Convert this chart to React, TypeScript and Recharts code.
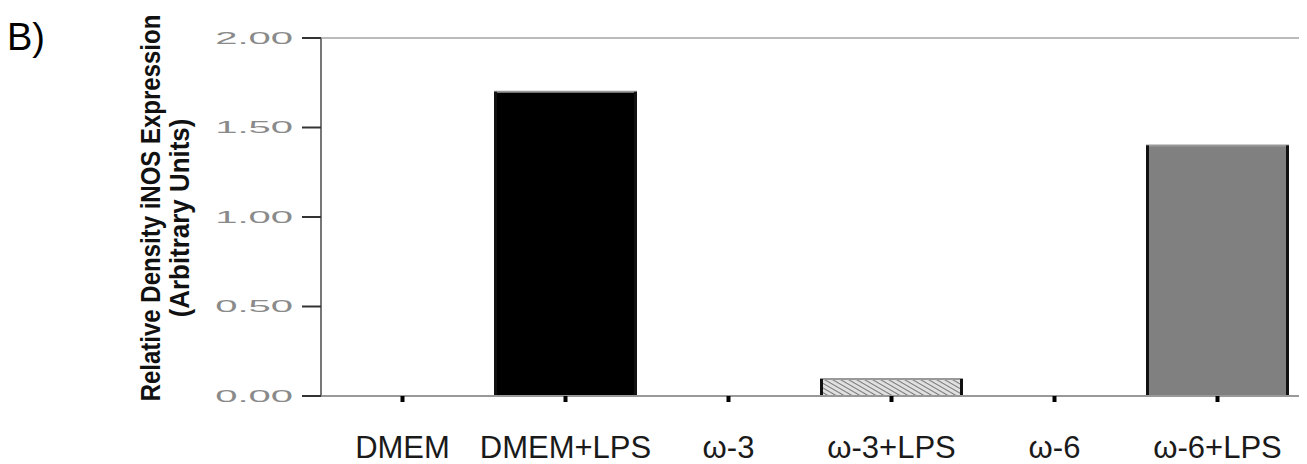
import { BarChart, Bar, XAxis, YAxis, Cell, ReferenceLine } from "recharts";

// 처리군
const categories = ["DMEM", "DMEM+LPS", "ω-3", "ω-3+LPS", "ω-6", "ω-6+LPS"];
// iNOS 상대 밀도
const values = [0, 1.7, 0, 0.095, 0, 1.4];
const yTicks = [0, 0.5, 1, 1.5, 2];
const barFills = ["#000000", "#000000", "#000000", "url(#hatch)", "#000000", "#808080"];

const data = categories.map((name, i) => ({ name, value: values[i] }));

// 막대: 좌우 검은 테두리
const BarShape = (props: any) => {
  const { x, y, width, height, fill } = props;
  if (!height || height <= 0) return null;
  return (
    <g>
      <rect x={x} y={y} width={width} height={height} fill={fill} />
      <line x1={x} y1={y} x2={x + width} y2={y} stroke="#999" strokeWidth={2} />
      <line x1={x + 1.5} y1={y} x2={x + 1.5} y2={y + height} stroke="#111" strokeWidth={3} />
      <line x1={x + width - 1.5} y1={y} x2={x + width - 1.5} y2={y + height} stroke="#111" strokeWidth={3} />
    </g>
  );
};

const YTick = (props: any) => {
  const { x, y, payload } = props;
  return (
    <text
      transform={`translate(${x},${y}) scale(2.5,1)`}
      textAnchor="end"
      dy="0.36em"
      fontSize={16}
      fontFamily="'Liberation Sans', Arial, sans-serif"
      fill="#8a8a8a">
      {Number(payload.value).toFixed(2)}
    </text>
  );
};

const XTick = (props: any) => {
  const { x, y, payload } = props;
  return (
    <text
      x={x}
      y={y}
      dy={54}
      textAnchor="middle"
      fontSize={31}
      fontFamily="'Liberation Sans', Arial, sans-serif"
      fill="#1a1a1a">
      {payload.value}
    </text>
  );
};

const YLabel = () => (
  <g fontFamily="'Liberation Sans', Arial, sans-serif">
    <text x={7} y={50} fontSize={38} fill="#000">
      B)
    </text>
    <text
      transform="translate(151,208) rotate(-90) scale(1,1.12)"
      textAnchor="middle"
      dy="0.35em"
      fontSize={24}
      fontWeight="bold"
      fill="#111">
      Relative Density iNOS Expression
    </text>
    <text
      transform="translate(180,218) rotate(-90) scale(1.08,1.12)"
      textAnchor="middle"
      dy="0.35em"
      fontSize={24}
      fontWeight="bold"
      fill="#111">
      (Arbitrary Units)
    </text>
  </g>
);

export default function App() {
  return (
    <div style={{ position: "fixed", left: 0, top: 0, width: 1307, height: 464, background: "#fff" }}>
      <BarChart
        width={1307}
        height={464}
        data={data}
        margin={{ top: 38, right: 8, left: 0, bottom: 4 }}>
        <defs>
          <pattern id="hatch" width="4" height="4" patternUnits="userSpaceOnUse" patternTransform="rotate(30)">
            <rect width="4" height="4" fill="#e0e0e0" />
            <line x1="0" y1="0" x2="4" y2="0" stroke="#555" strokeWidth="1.5" />
          </pattern>
        </defs>
        <XAxis
          dataKey="name"
          height={64}
          interval={0}
          axisLine={{ stroke: "#999", strokeWidth: 2 }}
          tickLine={{ stroke: "#000", strokeWidth: 4 }}
          tickSize={6}
          tick={<XTick />}
        />
        <YAxis
          domain={[0, 2]}
          ticks={yTicks}
          width={321}
          axisLine={{ stroke: "#777", strokeWidth: 2 }}
          tickLine={{ stroke: "#333", strokeWidth: 2 }}
          tickSize={19}
          tickMargin={9}
          tick={<YTick />}
          label={{ content: <YLabel /> }}
        />
        <YAxis
          yAxisId="right"
          orientation="right"
          domain={[0, 2]}
          width={0}
          tick={false}
          tickLine={false}
          axisLine={{ stroke: "#666", strokeWidth: 3 }}
        />
        <ReferenceLine y={2} stroke="#bbb" strokeWidth={2} />
        <Bar dataKey="value" barSize={143} shape={<BarShape />} isAnimationActive={false}>
          {data.map((d, i) => (
            <Cell key={`cell-${i}`} fill={barFills[i]} />
          ))}
        </Bar>
      </BarChart>
    </div>
  );
}
